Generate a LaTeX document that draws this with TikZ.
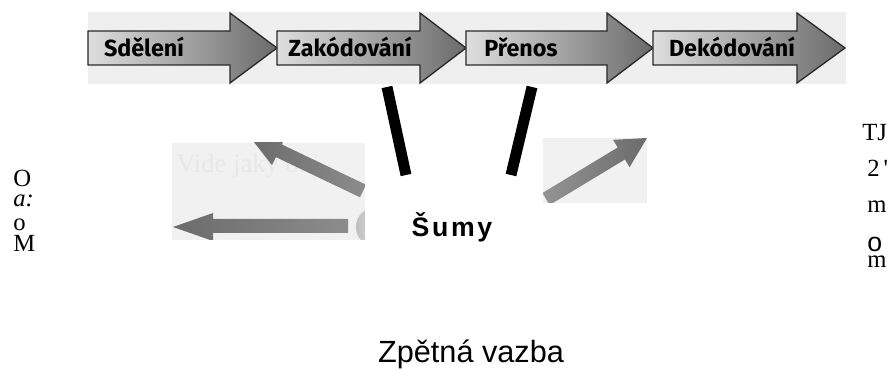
\documentclass[tikz,border=0pt]{standalone}
\usepackage{fontspec}
\setmainfont{Liberation Serif}
\newfontfamily\plainsans{Liberation Sans}
\newfontfamily\noisefont[LetterSpace=10]{Liberation Sans}
\newfontfamily\stepfont{Fira Sans}
\definecolor{stripbg}{HTML}{EFEFEF}
\definecolor{panelbg}{HTML}{F1F1F1}
\definecolor{stepedge}{HTML}{2A2A2A}
\tikzset{
  steplabel/.style={anchor=base, inner sep=0pt, font=\stepfont\bfseries\fontsize{17.5pt}{17.5pt}\selectfont, text=black},
  steparrow/.style={draw=stepedge, line width=1pt, line join=miter, left color=black!13, right color=black!58},
  pointer/.style={draw=none},
  stray/.style={anchor=base west, inner sep=0pt, font=\fontsize{18.5pt}{18.5pt}\selectfont},
  slashbar/.style={line width=8.2pt, line cap=butt, black},
}
% one step of the process chain: name, left, head start, tip, label, label centre
\newcommand\processstep[6]{%
  \path[steparrow] (#2,31) -- (#3,31) -- (#3,13) -- (#4,48) -- (#3,83) -- (#3,65) -- (#2,65) -- cycle;
  \node[steplabel] (#1) at (#6,57) {#5};
}
\begin{document}
\begin{tikzpicture}[x=0.75pt,y=-0.75pt]
\useasboundingbox (0,0) rectangle (893,370);

% process chain
\fill[stripbg] (88,12) rectangle (846,84);
\processstep{sdeleni}{88}{230}{277}{Sdělení}{144}
\processstep{kodovani}{277}{420}{466}{Zakódování}{350}
\processstep{prenos}{466}{607}{653}{Přenos}{521}
\processstep{dekodovani}{653}{797}{845}{Dekódování}{732}

% noise markers
\coordinate (nA1) at (387,87);
\coordinate (nA2) at (406,175);
\coordinate (nB1) at (532,87);
\coordinate (nB2) at (511,175);
\draw[slashbar] (nA1) -- (nA2);
\draw[slashbar] (nB1) -- (nB2);

% left feedback panel
\fill[panelbg] (172,143) rectangle (365,240);
\begin{scope}
  \clip (172,143) rectangle (365,240);
  \node[anchor=base west, inner sep=0pt, text=black!9, font=\fontsize{20pt}{20pt}\selectfont] (ghost) at (176,173) {Vide jaký obj};
  \path[pointer, left color=black!58, right color=black!45] (366.0,184.7) -- (281.9,144.5) -- (284.5,138) -- (250,137) -- (272,165.2) -- (275.9,157.1) -- (360.0,197.3) -- cycle;
  \path[pointer, left color=black!58, right color=black!45] (348,219) -- (213,219) -- (213,213) -- (173,227) -- (213,241) -- (213,233) -- (348,233) -- cycle;
  \shade[left color=black!25, right color=black!6] (376,227) circle (20);
\end{scope}

% right feedback panel
\fill[panelbg] (543,138) rectangle (647,203);
\begin{scope}
  \clip (543,138) rectangle (647,203);
  \path[pointer, left color=black!42, right color=black!58] (549.6,205.0) -- (624.9,159.5) -- (629.6,167.2) -- (647,138) -- (613.0,139.8) -- (617.7,147.5) -- (542.4,193.0) -- cycle;
\end{scope}

% labels
\node[anchor=base, inner sep=0pt, font=\noisefont\bfseries\fontsize{20pt}{20pt}\selectfont] (sumy) at (452,237) {Šumy};
\node[anchor=base, inner sep=0pt, font=\plainsans\fontsize{23pt}{23pt}\selectfont] (zpetna) at (471,363) {Zpětná vazba};

% stray glyphs at the margins
\node[stray] (l1) at (13,187) {O};
\node[stray] (l2) at (13,207) {\itshape a:};
\node[stray] (l3) at (13,231) {o};
\node[stray] (l4) at (13,252) {M};
\node[stray] (r1) at (862,141) {TJ};
\node[stray] (r2) at (867,177) {2\,\textquotesingle};
\node[stray] (r3) at (867,213) {m};
\node[stray, font=\plainsans\fontsize{20pt}{20pt}\selectfont] (r4) at (867,252) {o};
\node[stray] (r5) at (867,268) {m};
\end{tikzpicture}
\end{document}
